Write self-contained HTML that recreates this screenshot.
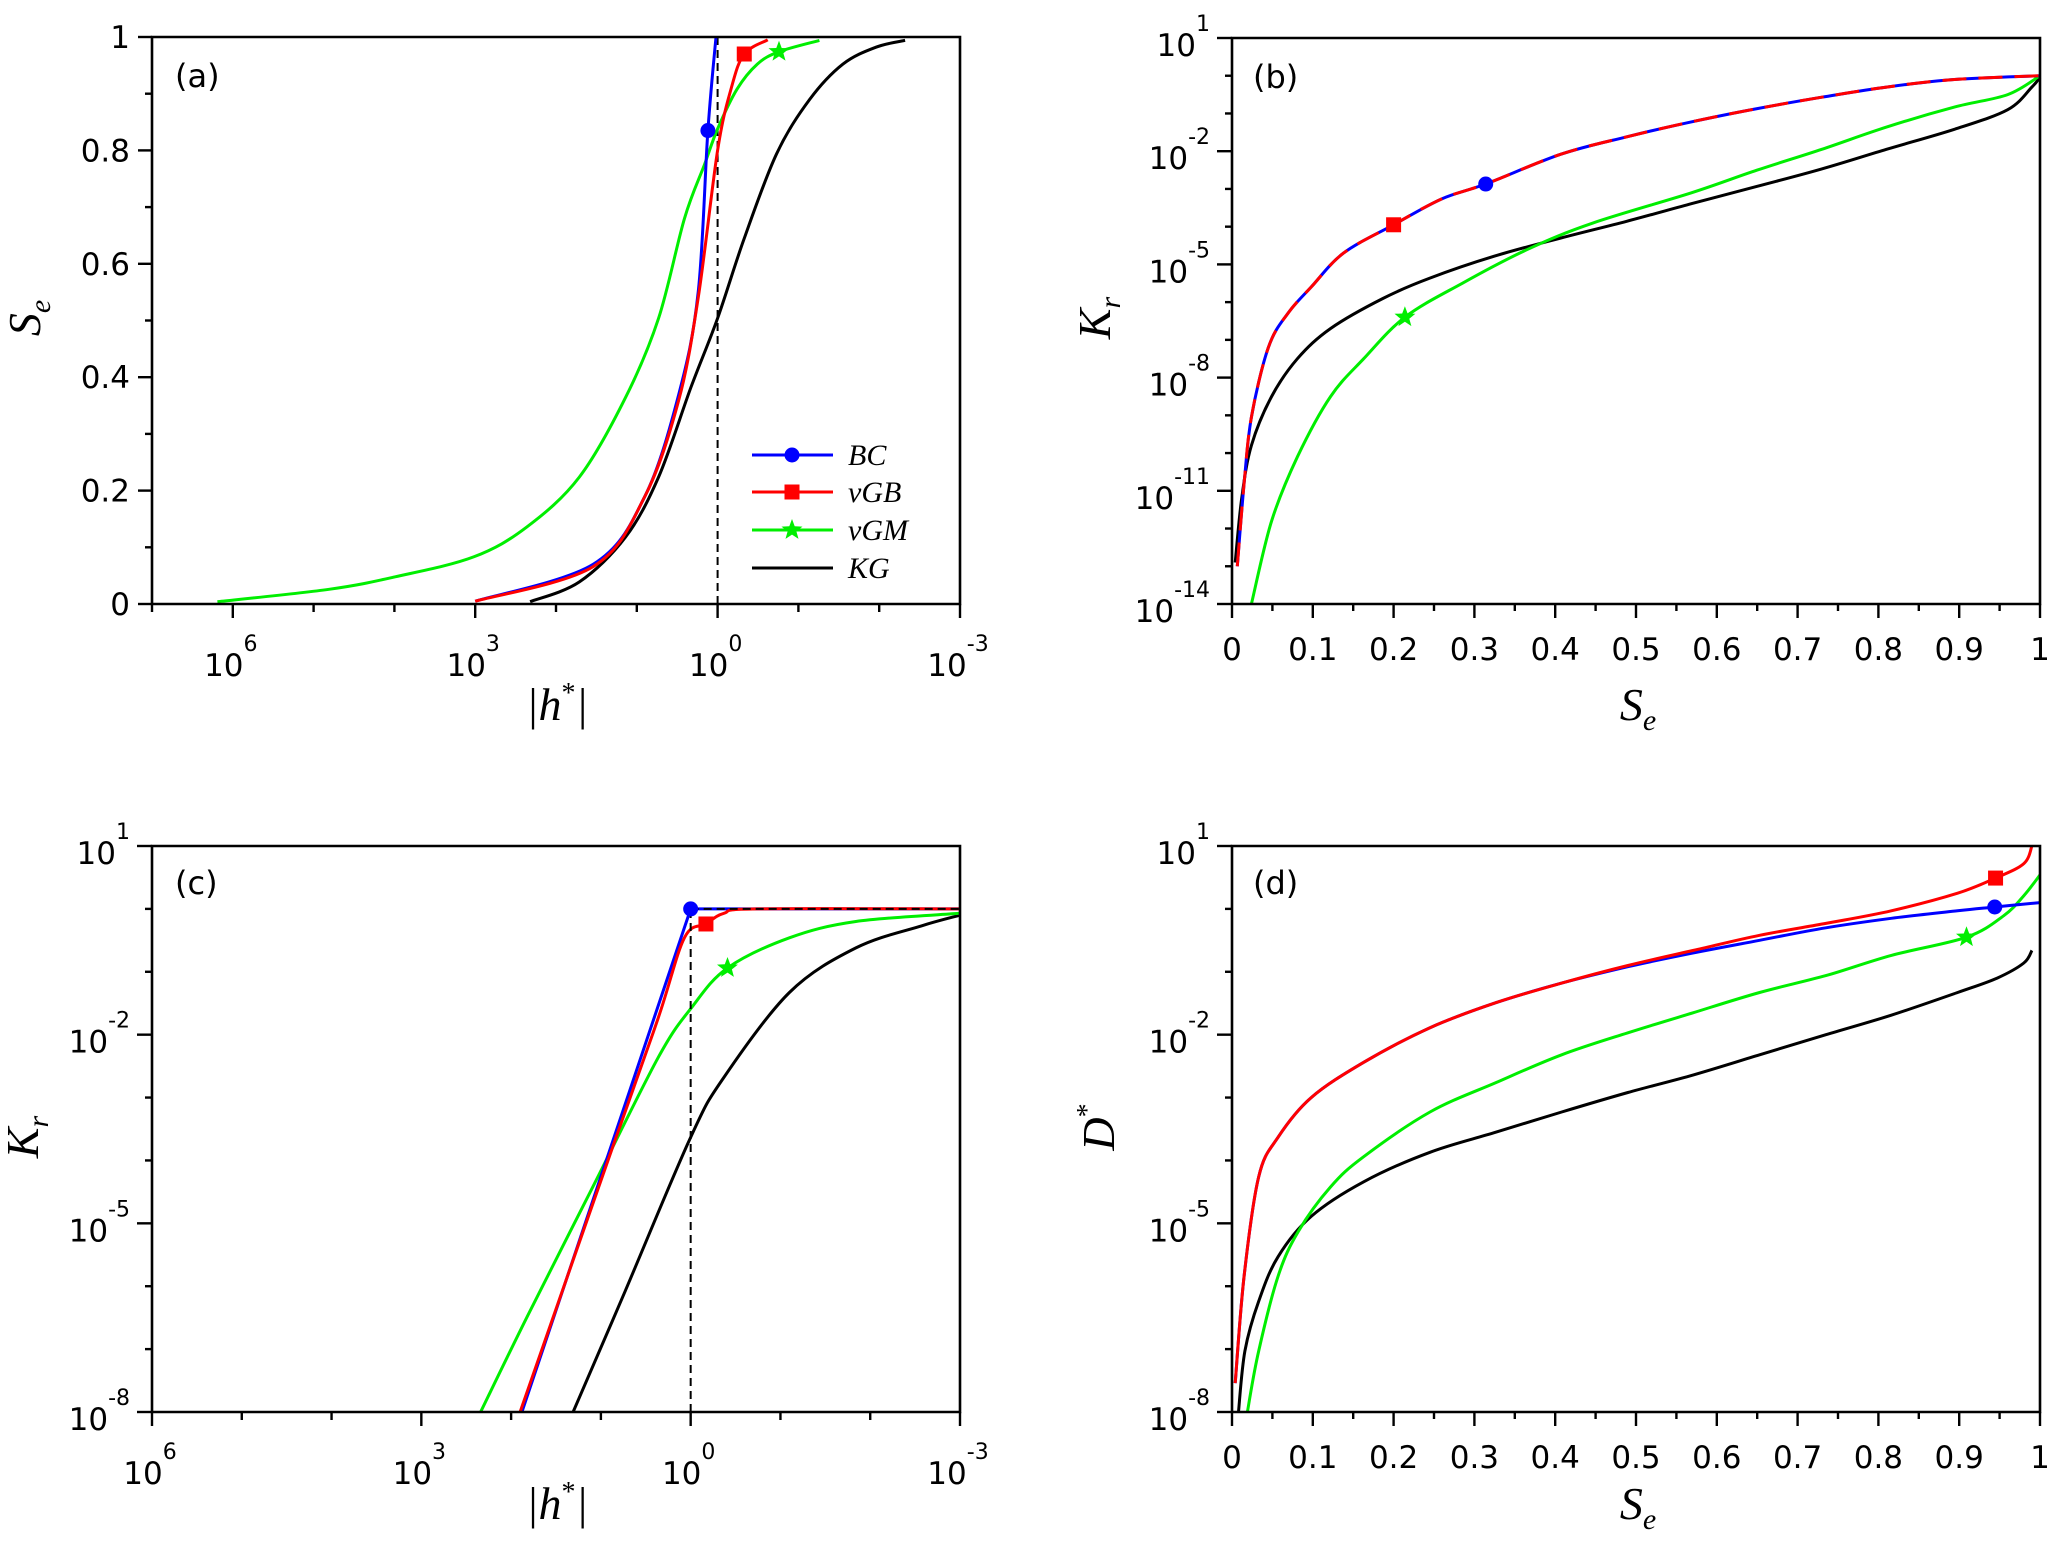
<!DOCTYPE html>
<html><head><meta charset="utf-8"><style>
html,body{margin:0;padding:0;background:#fff;}
svg{display:block;}
text{font-family:"DejaVu Sans","Liberation Sans",sans-serif;fill:#000;}
.it{font-family:"Liberation Serif","DejaVu Serif",serif;font-style:italic;}
</style></head><body>
<svg id="fig" width="2067" height="1558" viewBox="0 0 2067 1558" xmlns="http://www.w3.org/2000/svg"></svg>
<script>
// ---------- Panel (a): Se vs log10|h*| ----------
const aBC_x=[3.0,1.54,0.9,0.48,0.24,0.12,0.02];
const aBC_y=[0.005,0.07,0.19,0.37,0.55,0.835,1.0];
const aVGB_x=[3.0,1.54,0.9,0.48,0.24,0.0,-0.17,-0.33,-0.62];
const aVGB_y=[0.005,0.066,0.19,0.36,0.54,0.80,0.91,0.97,0.995];
const aVGM_x=[6.19,4.81,3.99,3.02,2.36,1.71,1.14,0.73,0.41,0.16,0.0,-0.24,-0.49,-0.76,-1.26];
const aVGM_y=[0.004,0.026,0.048,0.083,0.136,0.224,0.364,0.504,0.68,0.776,0.838,0.908,0.952,0.974,0.994];
const aKG_x=[2.32,1.71,1.14,0.73,0.33,0.0,-0.33,-0.73,-1.14,-1.55,-1.96,-2.32];
const aKG_y=[0.004,0.039,0.118,0.224,0.382,0.504,0.645,0.794,0.89,0.952,0.982,0.994];
const aMarks={bc:[0.12,0.835],vgb:[-0.33,0.97],vgm:[-0.76,0.974]};
// ---------- Panel (b): log10 Kr vs Se ----------
const bBC_x=[0.0065,0.015,0.024,0.045,0.069,0.098,0.138,0.2,0.26,0.314,0.407,0.488,0.569,0.65,0.73,0.81,0.894,1.0];
const bBC_y=[-13,-10.8,-9.05,-7.2,-6.3,-5.6,-4.7,-3.95,-3.26,-2.87,-2.08,-1.62,-1.22,-0.87,-0.57,-0.3,-0.1,0];
const bKG_x=[0.004,0.012,0.024,0.049,0.081,0.122,0.187,0.244,0.325,0.407,0.488,0.569,0.65,0.73,0.81,0.894,0.96,0.99,1.0];
const bKG_y=[-12.9,-11.2,-9.8,-8.5,-7.5,-6.7,-5.9,-5.37,-4.78,-4.3,-3.86,-3.39,-2.93,-2.47,-1.95,-1.42,-0.9,-0.3,-0.04];
const bVGM_x=[0.024,0.049,0.081,0.122,0.163,0.214,0.285,0.366,0.447,0.569,0.65,0.73,0.81,0.894,0.96,1.0];
const bVGM_y=[-14,-11.8,-10.1,-8.5,-7.5,-6.4,-5.5,-4.6,-3.9,-3.1,-2.5,-1.95,-1.36,-0.83,-0.5,0];
const bMarks={bc:[0.314,-2.87],vgb:[0.2,-3.95],vgm:[0.214,-6.4]};
// ---------- Panel (c): log10 Kr vs log10|h*| ----------
const cBC_x=[1.88,0.0,-3.0];
const cBC_y=[-8,0,0];
const cVGB_x=[1.9,0.87,0.36,0.07,-0.17,-0.37,-0.74,-3.0];
const cVGB_y=[-8,-3.79,-1.73,-0.46,-0.24,-0.07,0,0];
const cVGM_x=[2.34,1.82,1.09,0.36,-0.01,-0.41,-1.1,-1.84,-3.0];
const cVGM_y=[-8,-6.48,-4.42,-2.36,-1.57,-0.94,-0.46,-0.2,-0.07];
const cKG_x=[1.31,0.73,0.0,-0.37,-1.1,-1.84,-2.57,-3.0];
const cKG_y=[-8,-6.08,-3.63,-2.68,-1.33,-0.62,-0.27,-0.1];
const cMarks={bc:[0.0,0.0],vgb:[-0.17,-0.24],vgm:[-0.41,-0.94]};
// ---------- Panel (d): log10 D* vs Se ----------
const dVGB_x=[0.004,0.015,0.033,0.057,0.098,0.163,0.245,0.327,0.408,0.49,0.571,0.653,0.735,0.816,0.898,0.945,0.98,0.99];
const dVGB_y=[-7.54,-5.84,-4.26,-3.63,-3.0,-2.44,-1.89,-1.49,-1.18,-0.9,-0.66,-0.42,-0.23,-0.03,0.25,0.49,0.72,1.0];
const dBC_x=[0.004,0.015,0.033,0.057,0.098,0.163,0.245,0.327,0.408,0.49,0.571,0.653,0.735,0.816,0.898,0.944,1.0];
const dBC_y=[-7.54,-5.84,-4.26,-3.63,-3.0,-2.44,-1.89,-1.49,-1.18,-0.92,-0.7,-0.5,-0.3,-0.15,-0.03,0.03,0.1];
const dVGM_x=[0.019,0.033,0.057,0.082,0.122,0.163,0.245,0.327,0.408,0.49,0.571,0.653,0.735,0.816,0.909,0.955,0.98,1.0];
const dVGM_y=[-8,-7.03,-5.84,-5.13,-4.42,-3.94,-3.23,-2.76,-2.32,-1.97,-1.65,-1.33,-1.06,-0.74,-0.45,-0.11,0.21,0.54];
const dKG_x=[0.008,0.016,0.033,0.057,0.098,0.163,0.245,0.327,0.408,0.49,0.571,0.653,0.735,0.816,0.898,0.947,0.98,0.99];
const dKG_y=[-8,-7.03,-6.24,-5.53,-4.89,-4.34,-3.87,-3.55,-3.23,-2.92,-2.64,-2.32,-2.0,-1.69,-1.33,-1.1,-0.86,-0.66];
const dMarks={bc:[0.944,0.03],vgb:[0.945,0.49],vgm:[0.909,-0.45]};
const seTicks=[0,0.1,0.2,0.3,0.4,0.5,0.6,0.7,0.8,0.9,1];
const seTickLabels=["0","0.1","0.2","0.3","0.4","0.5","0.6","0.7","0.8","0.9","1"];
const aYTicks=[0,0.2,0.4,0.6,0.8,1];
const aYTickLabels=["0","0.2","0.4","0.6","0.8","1"];

const NS="http://www.w3.org/2000/svg";
const svg=document.getElementById('fig');
function mk(tag,attrs,parent){const e=document.createElementNS(NS,tag);for(const k in attrs)e.setAttribute(k,attrs[k]);(parent||svg).appendChild(e);return e;}
function scale(d0,d1,p0,p1){return v=>p0+(v-d0)/(d1-d0)*(p1-p0);}
const COL={bc:'#0000ff',vgb:'#ff0000',vgm:'#00ee00',kg:'#000000'};

function smoothPath(P){
  let d='M'+P[0][0].toFixed(1)+','+P[0][1].toFixed(1);
  for(let i=0;i<P.length-1;i++){
    const p0=P[i-1]||P[i],p1=P[i],p2=P[i+1],p3=P[i+2]||P[i+1];
    const c1=[p1[0]+(p2[0]-p0[0])/6,p1[1]+(p2[1]-p0[1])/6];
    const c2=[p2[0]-(p3[0]-p1[0])/6,p2[1]-(p3[1]-p1[1])/6];
    d+=`C${c1[0].toFixed(1)},${c1[1].toFixed(1)} ${c2[0].toFixed(1)},${c2[1].toFixed(1)} ${p2[0].toFixed(1)},${p2[1].toFixed(1)}`;
  }
  return d;
}
function line(g,xs,ys,sx,sy,color,name,dash,sharp){
  const P=xs.map((x,i)=>[sx(x),sy(ys[i])]);
  const d=sharp?'M'+P.map(p=>p[0].toFixed(1)+','+p[1].toFixed(1)).join('L'):smoothPath(P);
  const p=mk('path',{d:d,fill:'none',stroke:color,'stroke-width':3,'stroke-linejoin':'round'},g);
  if(dash)p.setAttribute('stroke-dasharray',dash);
  
  
  return p;
}
function starPts(cx,cy,r){let s=[];for(let i=0;i<10;i++){const a=-Math.PI/2+i*Math.PI/5;const rr=i%2?r*0.42:r;s.push((cx+rr*Math.cos(a)).toFixed(1)+','+(cy+rr*Math.sin(a)).toFixed(1));}return s.join(' ');}
function marker(g,kind,x,y,name){
  let e;
  if(kind==='bc')e=mk('circle',{cx:x,cy:y,r:7.5,fill:COL.bc},g);
  else if(kind==='vgb')e=mk('rect',{x:x-7.5,y:y-7.5,width:15,height:15,fill:COL.vgb},g);
  else e=mk('polygon',{points:starPts(x,y,11),fill:COL.vgm},g);
  
  
}
function powLabel(g,x,y,exp,name){
  const t=mk('text',{x:x,y:y,'font-size':31,'text-anchor':'middle'},g);
  
  
  const a=mk('tspan',{},t);a.textContent='10';
  const b=mk('tspan',{dy:-25,'font-size':22},t);b.textContent=String(exp);
  return t;
}
function frame(g,L,R,T,B){
  const r=mk('path',{d:`M${L},${T}H${R}V${B}H${L}Z`,fill:'none',stroke:'#000','stroke-width':2.6},g);
  
  
}
function panelLabel(g,x,y,s){const t=mk('text',{x:x,y:y,'font-size':32},g);t.textContent=s;}
function axTitle(g,x,y,html,rot,name){
  const t=mk('text',{x:x,y:y,'font-size':46,'text-anchor':'middle',class:'it'},g);
  if(rot)t.setAttribute('transform',`rotate(-90 ${x} ${y})`);
  t.innerHTML=html;
  
  
}
function tick(g,x1,y1,x2,y2){mk('line',{x1,y1,x2,y2,stroke:'#000','stroke-width':2.4},g);}

function hAxis(g,sx,B,lo,hi,labels){
  for(let k=lo;k<=hi;k++){const x=sx(k);const maj=labels.includes(k);tick(g,x,B,x,B+(maj?14:8));}
  labels.forEach(k=>powLabel(g,sx(k)-2,B+72,k,'x-tick-label'));
}
function seAxis(g,sx,B){
  for(let i=0;i<=20;i++){const v=i/20;const x=sx(v);tick(g,x,B,x,B+(i%2?7:14));}
  seTicks.forEach((v,i)=>{const t=mk('text',{x:sx(v),y:B+56,'font-size':31,'text-anchor':'middle'},g);t.textContent=seTickLabels[i];});
}
function logYAxis(g,sy,L,lo,hi,step){
  for(let k=lo;k<=hi;k++){const y=sy(k);const maj=((k-lo)%step)===0;tick(g,L,y,L-(maj?15:7),y);
    if(maj){const t=powLabel(g,L-48,y+18,k,'y-tick-label');t.setAttribute('text-anchor','end');t.setAttribute('x',L-22);}}
}
const SE='S<tspan font-size="30" dy="10">e</tspan>';
const KR='K<tspan font-size="30" dy="10">r</tspan>';
const HS='|h<tspan font-size="28" dy="-18" font-style="normal">*</tspan><tspan dy="18">|</tspan>';

// ===== Panel a =====
(function(){
  const g=mk('g',{});
  const L=152,R=960,T=37,B=604;
  const sx=scale(7,-3,L,R), sy=scale(0,1,B,T);
  for(let i=0;i<=10;i++){const y=sy(i/10);tick(g,L,y,L-(i%2?7:14),y);}
  aYTicks.forEach((v,i)=>{const t=mk('text',{x:L-22,y:sy(v)+11,'font-size':31,'text-anchor':'end'},g);t.textContent=aYTickLabels[i];});
  hAxis(g,sx,B,-3,7,[6,3,0,-3]);
  const dl=mk('line',{x1:sx(0),y1:sy(0),x2:sx(0),y2:sy(1),stroke:'#000','stroke-width':2,'stroke-dasharray':'8,5'},g);
  
  line(g,aVGM_x,aVGM_y,sx,sy,COL.vgm,'vgm-curve');
  line(g,aKG_x,aKG_y,sx,sy,COL.kg,'kg-curve');
  line(g,aBC_x,aBC_y,sx,sy,COL.bc,'bc-curve');
  line(g,aVGB_x,aVGB_y,sx,sy,COL.vgb,'vgb-curve');
  marker(g,'bc',sx(aMarks.bc[0]),sy(aMarks.bc[1]),'bc-marker');
  marker(g,'vgb',sx(aMarks.vgb[0]),sy(aMarks.vgb[1]),'vgb-marker');
  marker(g,'vgm',sx(aMarks.vgm[0]),sy(aMarks.vgm[1]),'vgm-marker');
  frame(g,L,R,T,B);
  panelLabel(g,175,87,'(a)');
  axTitle(g,40,318,SE,true,'y-axis-title');
  axTitle(g,557,720,HS,false,'x-axis-title');
  const lg=mk('g',{},g);
  const rows=[['bc','BC',455],['vgb','vGB',492],['vgm','vGM',530],['kg','KG',568]];
  rows.forEach(r=>{
    const e=mk('g',{},lg);
    mk('line',{x1:752,y1:r[2],x2:833,y2:r[2],stroke:COL[r[0]],'stroke-width':3},e);
    if(r[0]!=='kg')marker(e,r[0],792,r[2],'legend-marker');
    const t=mk('text',{x:848,y:r[2]+10,'font-size':30,class:'it'},e);t.textContent=r[1];
  });
})();

// ===== Panel b =====
(function(){
  const g=mk('g',{});
  const L=1232,R=2040,T=38,B=604;
  const sx=scale(0,1,L,R), sy=scale(-14,1,B,T);
  logYAxis(g,sy,L,-14,1,3);
  seAxis(g,sx,B);
  line(g,bKG_x,bKG_y,sx,sy,COL.kg,'kg-curve');
  line(g,bVGM_x,bVGM_y,sx,sy,COL.vgm,'vgm-curve');
  line(g,bBC_x,bBC_y,sx,sy,COL.bc,'bc-curve');
  line(g,bBC_x,bBC_y,sx,sy,COL.vgb,'vgb-curve','24,12');
  marker(g,'bc',sx(bMarks.bc[0]),sy(bMarks.bc[1]),'bc-marker');
  marker(g,'vgb',sx(bMarks.vgb[0]),sy(bMarks.vgb[1]),'vgb-marker');
  marker(g,'vgm',sx(bMarks.vgm[0]),sy(bMarks.vgm[1]),'vgm-marker');
  frame(g,L,R,T,B);
  panelLabel(g,1253,88,'(b)');
  axTitle(g,1110,318,KR,true,'y-axis-title');
  axTitle(g,1638,720,SE,false,'x-axis-title');
})();

// ===== Panel c =====
(function(){
  const g=mk('g',{});
  const L=152,R=960,T=846,B=1412;
  const sx=scale(6,-3,L,R), sy=scale(-8,1,B,T);
  logYAxis(g,sy,L,-8,1,3);
  hAxis(g,sx,B,-3,6,[6,3,0,-3]);
  line(g,cKG_x,cKG_y,sx,sy,COL.kg,'kg-curve');
  line(g,cVGM_x,cVGM_y,sx,sy,COL.vgm,'vgm-curve');
  line(g,cBC_x,cBC_y,sx,sy,COL.bc,'bc-curve',null,true);
  line(g,cVGB_x,cVGB_y,sx,sy,COL.vgb,'vgb-curve');
  const d1=mk('line',{x1:sx(0),y1:sy(-8),x2:sx(0),y2:sy(0),stroke:'#000','stroke-width':2,'stroke-dasharray':'8,5'},g);
  
  const d2=mk('line',{x1:sx(0),y1:sy(0),x2:sx(-3),y2:sy(0),stroke:'#000','stroke-width':2,'stroke-dasharray':'8,5'},g);
  
  marker(g,'bc',sx(cMarks.bc[0]),sy(cMarks.bc[1]),'bc-marker');
  marker(g,'vgb',sx(cMarks.vgb[0]),sy(cMarks.vgb[1]),'vgb-marker');
  marker(g,'vgm',sx(cMarks.vgm[0]),sy(cMarks.vgm[1]),'vgm-marker');
  frame(g,L,R,T,B);
  panelLabel(g,175,894,'(c)');
  axTitle(g,38,1137,KR,true,'y-axis-title');
  axTitle(g,557,1519,HS,false,'x-axis-title');
})();

// ===== Panel d =====
(function(){
  const g=mk('g',{});
  const L=1232,R=2040,T=846,B=1412;
  const sx=scale(0,1,L,R), sy=scale(-8,1,B,T);
  logYAxis(g,sy,L,-8,1,3);
  seAxis(g,sx,B);
  line(g,dKG_x,dKG_y,sx,sy,COL.kg,'kg-curve');
  line(g,dVGM_x,dVGM_y,sx,sy,COL.vgm,'vgm-curve');
  line(g,dBC_x,dBC_y,sx,sy,COL.bc,'bc-curve');
  line(g,dVGB_x,dVGB_y,sx,sy,COL.vgb,'vgb-curve');
  marker(g,'bc',sx(dMarks.bc[0]),sy(dMarks.bc[1]),'bc-marker');
  marker(g,'vgb',sx(dMarks.vgb[0]),sy(dMarks.vgb[1]),'vgb-marker');
  marker(g,'vgm',sx(dMarks.vgm[0]),sy(dMarks.vgm[1]),'vgm-marker');
  frame(g,L,R,T,B);
  panelLabel(g,1253,894,'(d)');
  axTitle(g,1114,1127,'D<tspan font-size="28" dy="-18" font-style="normal">*</tspan>',true,'y-axis-title');
  axTitle(g,1638,1519,SE,false,'x-axis-title');
})();
</script>
</body></html>
